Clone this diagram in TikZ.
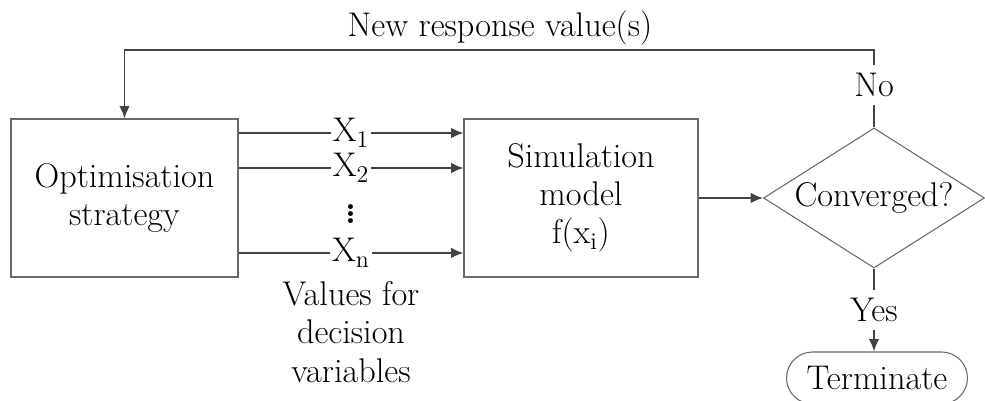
\documentclass[tikz,border=0pt]{standalone}
\usetikzlibrary{shapes.geometric,shapes.misc,arrows.meta}
\definecolor{linegray}{RGB}{68,68,68}
\definecolor{boxgray}{RGB}{105,105,105}

\begin{document}
\begin{tikzpicture}[
    x=0.02cm, y=-0.02cm,
    font=\fontsize{19.5}{21.8}\selectfont,
    block/.style={draw=boxgray, line width=0.6pt, align=center, inner sep=0pt},
    flow/.style={draw=linegray, line width=1.1pt, -{Latex[length=7pt, width=6pt]}},
    plain/.style={draw=linegray, line width=1.1pt},
    xlab/.style={fill=white, inner sep=1.2pt},
    answer/.style={inner sep=4.6pt},
]
\useasboundingbox (0,0) rectangle (985,401);

% Blocks
\node[block, minimum width=4.54cm, minimum height=3.16cm] (opt) at (124.5,198)
    {Optimisation\\strategy};
\node[block, minimum width=4.68cm, minimum height=3.16cm] (sim) at (581,198)
    {Simulation\\model\\f(x\textsubscript{i})};
\node[block, diamond, aspect=1.58, minimum width=4.42cm, minimum height=2.8cm] (conv) at (874,198)
    {Converged?};
\node[block, rounded rectangle, minimum width=3.62cm, minimum height=1.04cm] (term) at (877,378)
    {Terminate};

% Decision variables
\foreach \dy/\lab in {1.3/1, 0.6/2, -1.1/n} {
    \draw[flow] ([yshift=\dy cm]opt.east) -- node[xlab] (x\lab) {X\textsubscript{\lab}} ([yshift=\dy cm]sim.west);
}
\node[font=\fontsize{34}{36}\selectfont\boldmath] (dots) at (351,209) {$\vdots$};
\node[align=center] (values) at (351,332) {Values for\\decision\\variables};

% Output and decision
\draw[flow] (sim.east) -- (conv.west);
\node[answer] (yes) at (874,310) {Yes};
\draw[plain] (conv.south) -- (yes);
\draw[flow] (yes) -- (yes |- term.north);

% Feedback loop
\node[answer] (no) at (874,85) {No};
\coordinate (backR) at (874,50);
\coordinate (backL) at (124.5,50);
\node (newval) at (500,28) {New response value(s)};
\draw[plain] (conv.north) -- (no);
\draw[flow] (no) -- (backR) -- (backL) -- (opt.north);

\end{tikzpicture}
\end{document}
